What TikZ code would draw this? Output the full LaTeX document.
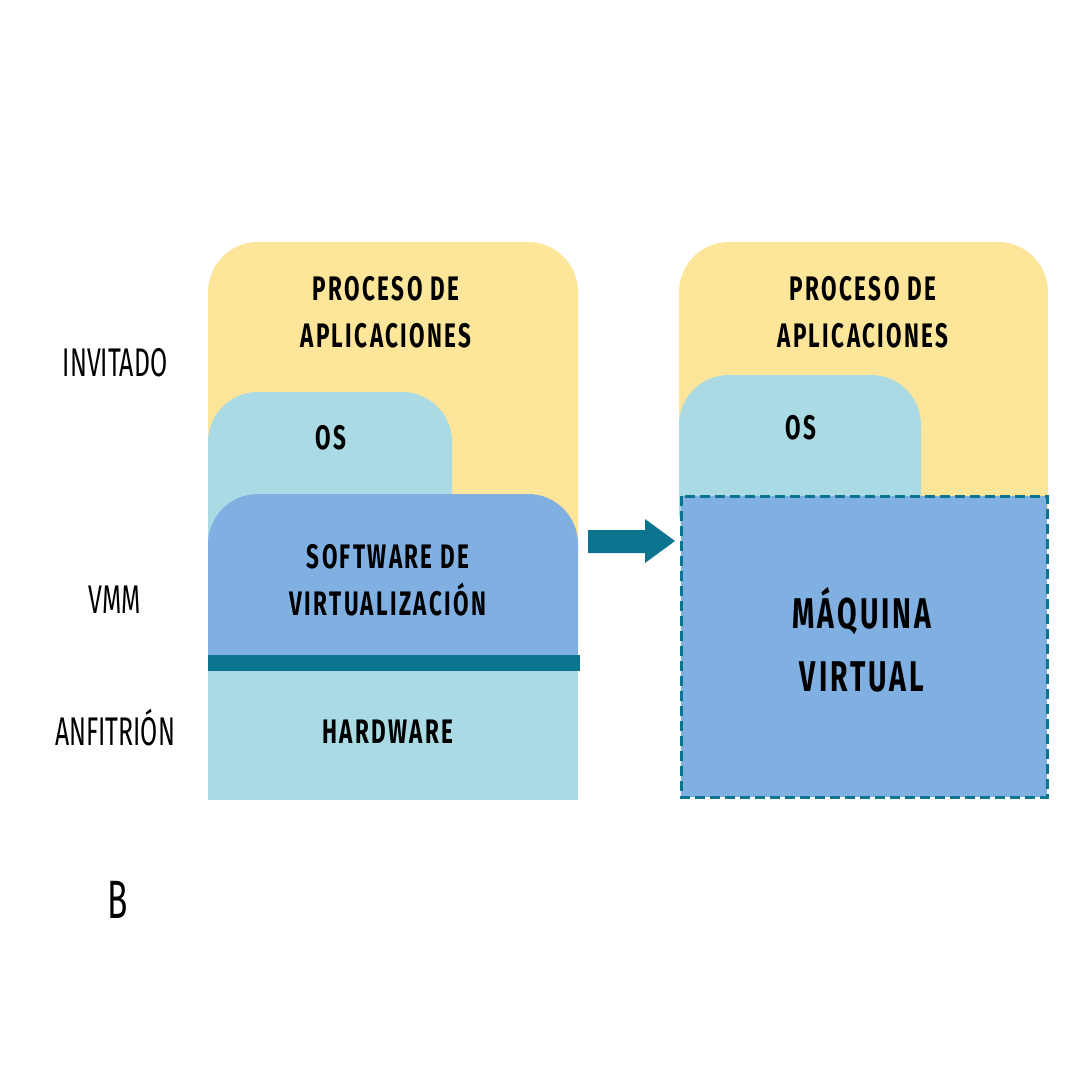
\documentclass[tikz,border=0pt]{standalone}
\usepackage{fontspec}
\newfontfamily\capafont{Fira Sans}[FakeStretch=0.66,LetterSpace=7]
\newfontfamily\ladofont{Fira Sans}[FakeStretch=0.62]
\definecolor{amarillo}{HTML}{FDE59A}
\definecolor{celeste}{HTML}{AADBE5}
\definecolor{azul}{HTML}{80AFE2}
\definecolor{petroleo}{HTML}{0B7590}

\begin{document}
\begin{tikzpicture}[x=1pt,y=-1pt,
    capa/.style={rounded corners=50pt},
    rotulo/.style={font=\capafont\bfseries\fontsize{34}{47}\selectfont,align=center,inner sep=0pt},
    grande/.style={font=\capafont\bfseries\fontsize{43}{63}\selectfont,align=center,inner sep=0pt},
    lado/.style={font=\ladofont\fontsize{40}{40}\selectfont,inner sep=0pt}]
    \useasboundingbox[fill=white] (0,0) rectangle (1080,1080);
    % pila izquierda
    \fill[amarillo,capa] (208,242) rectangle (578,600);
    \fill[celeste,capa] (208,392) rectangle (452,620);
    \fill[azul,capa] (208,494) rectangle (578,720);
    \fill[celeste] (208,663) rectangle (578,800);
    \fill[petroleo] (208,655) rectangle (580,671);
    \node[rotulo] (procA) at (386,312) {PROCESO DE\\APLICACIONES};
    \node[rotulo] (osA) at (331,438) {OS};
    \node[rotulo] (vmmA) at (388,580) {SOFTWARE DE\\VIRTUALIZACIÓN};
    \node[rotulo] (hwA) at (388,732) {HARDWARE};
    % etiquetas
    \node[lado] (invitado) at (115,363) {INVITADO};
    \node[lado] (vmm) at (115,600) {VMM};
    \node[lado] (anfitrion) at (115,728) {ANFITRIÓN};
    \node[lado,font=\ladofont\fontsize{54}{54}\selectfont] (letra) at (118,900) {B};
    % flecha
    \fill[petroleo] (588,530) -- (645,530) -- (645,519) -- (675,541)
        -- (645,563) -- (645,553) -- (588,553) -- cycle;
    % pila derecha
    \fill[amarillo,capa] (679,242) rectangle (1048,560);
    \fill[celeste,capa] (679,375) rectangle (921,560);
    \draw[petroleo,fill=azul,line width=3pt,dash pattern=on 10pt off 5pt]
        (681,496) rectangle (1047,797);
    \node[rotulo] (procB) at (863,312) {PROCESO DE\\APLICACIONES};
    \node[rotulo] (osB) at (801,428) {OS};
    \node[grande] (maquina) at (862,640) {MÁQUINA\\VIRTUAL};
\end{tikzpicture}
\end{document}
